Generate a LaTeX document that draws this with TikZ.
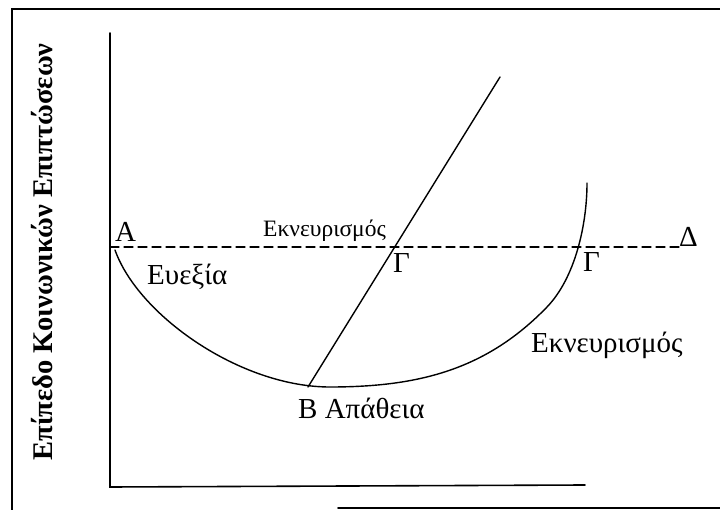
\documentclass[tikz,border=0pt]{standalone}
\usepackage{fontspec}
\setmainfont{Liberation Serif}
\begin{document}
\begin{tikzpicture}[x=1pt, y=-1pt, line cap=round,
    lbl/.style={anchor=base west, inner sep=0pt, font=\fontsize{29}{32}\selectfont},
    frameline/.style={line width=1.6pt}]
  \useasboundingbox (0,0) rectangle (720,510);
  % Outer frame (cut off at the right)
  \draw[frameline] (12,510) -- (12,9) -- (722,9);
  \draw[frameline] (338,508) -- (722,508);
  % Axes
  \coordinate (origin) at (110,487);
  \coordinate (ytop) at (110,33);
  \coordinate (xend) at (585,485);
  \draw[frameline] (ytop) -- (origin) -- (xend);
  % Axis label
  \node[rotate=90, anchor=base, inner sep=0pt,
        font=\fontsize{28.5}{32}\selectfont\bfseries] (ylab) at (52,252)
        {Επίπεδο Κοινωνικών Επιπτώσεων};
  % Dashed level line A -- Delta
  \coordinate (dashL) at (110,247);
  \node[lbl] (delta) at (679,247) {Δ};
  \draw[line width=1.3pt, dash pattern=on 9pt off 5pt] (dashL) -- (delta.base west);
  % U-shaped curve: A -> B -> Gamma
  \coordinate (ptA) at (115,250);
  \coordinate (ptB) at (330,387);
  \coordinate (ptC) at (547,307);
  \coordinate (ptEnd) at (587,183);
  \draw[line width=1.4pt]
    (ptA) .. controls (138,315) and (240,387) .. (ptB)
          .. controls (420,387) and (487,369) .. (ptC)
          .. controls (575,278) and (587,225) .. (ptEnd);
  % Straight line through B
  \coordinate (lineBot) at (308,387);
  \coordinate (lineTop) at (500,77);
  \draw[line width=1.4pt] (lineBot) -- (lineTop);
  % Labels
  \foreach \nm/\x/\y/\txt in {
      labA/115/242/Α,
      labG1/393/273/Γ,
      labG2/583/272/Γ,
      labEu/147/285/Ευεξία,
      labEk/531/353/Εκνευρισμός,
      labB/298/418/Β Απάθεια}
  {
    \node[lbl] (\nm) at (\x,\y) {\txt};
  }
  \node[lbl, font=\fontsize{23.5}{26}\selectfont] (labEkTop) at (263,237) {Εκνευρισμός};
\end{tikzpicture}
\end{document}
